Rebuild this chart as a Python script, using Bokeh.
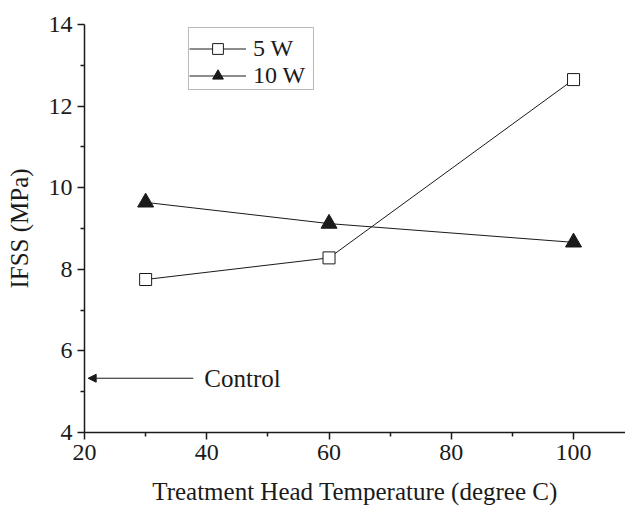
from bokeh.plotting import figure
from bokeh.models import (Range1d, FixedTicker, Arrow, NormalHead, Label, Legend, LegendItem,
                          BoxAnnotation)
from bokeh.embed import file_html
from bokeh.resources import INLINE

# Data
temperature = [30, 60, 100]
ifss_5w = [7.75, 8.28, 12.65]
ifss_10w = [9.64, 9.12, 8.66]
series_labels = ["5 W", "10 W"]
control_value = 5.33
control_arrow_start = 37.8
control_arrow_end = 20.6
control_label_x = 39.6
x_ticks = [20, 40, 60, 80, 100]
x_minor = [30, 50, 70, 90]
y_ticks = [4, 6, 8, 10, 12, 14]
y_minor = [5, 7, 9, 11, 13]
# legend frame extent (data units)
legend_box = dict(left=37.01, right=57.46, top=13.926, bottom=12.407)

FONT = "Liberation Serif"
INK = "#1a1a1a"

p = figure(width=625, height=507, output_backend="svg", toolbar_location=None,
           x_range=Range1d(20, 108.5), y_range=Range1d(4, 14),
           min_border_left=84, min_border_right=0, min_border_top=24, min_border_bottom=75)
p.outline_line_color = None
p.xgrid.visible = False
p.ygrid.visible = False
p.background_fill_color = "white"
p.border_fill_color = "white"

for ax, ticks, minor in ((p.xaxis[0], x_ticks, x_minor), (p.yaxis[0], y_ticks, y_minor)):
    ax.ticker = FixedTicker(ticks=ticks, minor_ticks=minor)
    ax.axis_line_color = INK
    ax.axis_line_width = 1.5
    ax.major_tick_line_color = INK
    ax.minor_tick_line_color = INK
    ax.major_tick_line_width = 1.5
    ax.minor_tick_line_width = 1.5
    ax.major_tick_in = 0
    ax.major_tick_out = 7
    ax.minor_tick_in = 0
    ax.minor_tick_out = 4
    ax.major_label_text_font = FONT
    ax.major_label_text_font_size = "24px"
    ax.major_label_text_color = INK
    ax.axis_label_text_font = FONT
    ax.axis_label_text_font_size = "25px"
    ax.axis_label_text_font_style = "normal"
    ax.axis_label_text_color = INK

p.xaxis.axis_label = "Treatment Head Temperature (degree C)"
p.yaxis.axis_label = "IFSS (MPa)"
p.xaxis.major_label_standoff = 5
p.xaxis.axis_label_standoff = 15
p.yaxis.major_label_standoff = 5
p.yaxis.axis_label_standoff = 13

p.add_layout(BoxAnnotation(left=legend_box["left"], right=legend_box["right"],
                           top=legend_box["top"], bottom=legend_box["bottom"],
                           fill_color="white", fill_alpha=1,
                           line_color=INK, line_width=1, level="underlay"))

l1 = p.line(temperature, ifss_5w, line_color=INK, line_width=1)
s1 = p.scatter(temperature, ifss_5w, marker="square", size=12, fill_color="white",
               line_color=INK, line_width=1)
l2 = p.line(temperature, ifss_10w, line_color=INK, line_width=1)
s2 = p.scatter(temperature, ifss_10w, marker="triangle", size=16, fill_color=INK,
               line_color=INK, line_width=1)

legend = Legend(items=[LegendItem(label=series_labels[0], renderers=[l1, s1]),
                       LegendItem(label=series_labels[1], renderers=[l2, s2])],
                location=(105, 343), orientation="vertical",
                glyph_width=57, glyph_height=27, label_height=27, spacing=0,
                padding=4, margin=0, label_standoff=7,
                label_text_font=FONT, label_text_font_size="24px", label_text_color=INK,
                border_line_color=None, background_fill_alpha=0)
p.add_layout(legend, "center")

p.add_layout(Arrow(end=NormalHead(size=8, fill_color=INK, line_color=INK),
                   x_start=control_arrow_start, y_start=control_value,
                   x_end=control_arrow_end, y_end=control_value,
                   line_color=INK, line_width=1))
p.add_layout(Label(x=control_label_x, y=control_value, text="Control",
                   text_font=FONT, text_font_size="25px", text_color=INK,
                   text_baseline="middle", text_align="left"))

open("out.html", "w").write(file_html(p, INLINE))
